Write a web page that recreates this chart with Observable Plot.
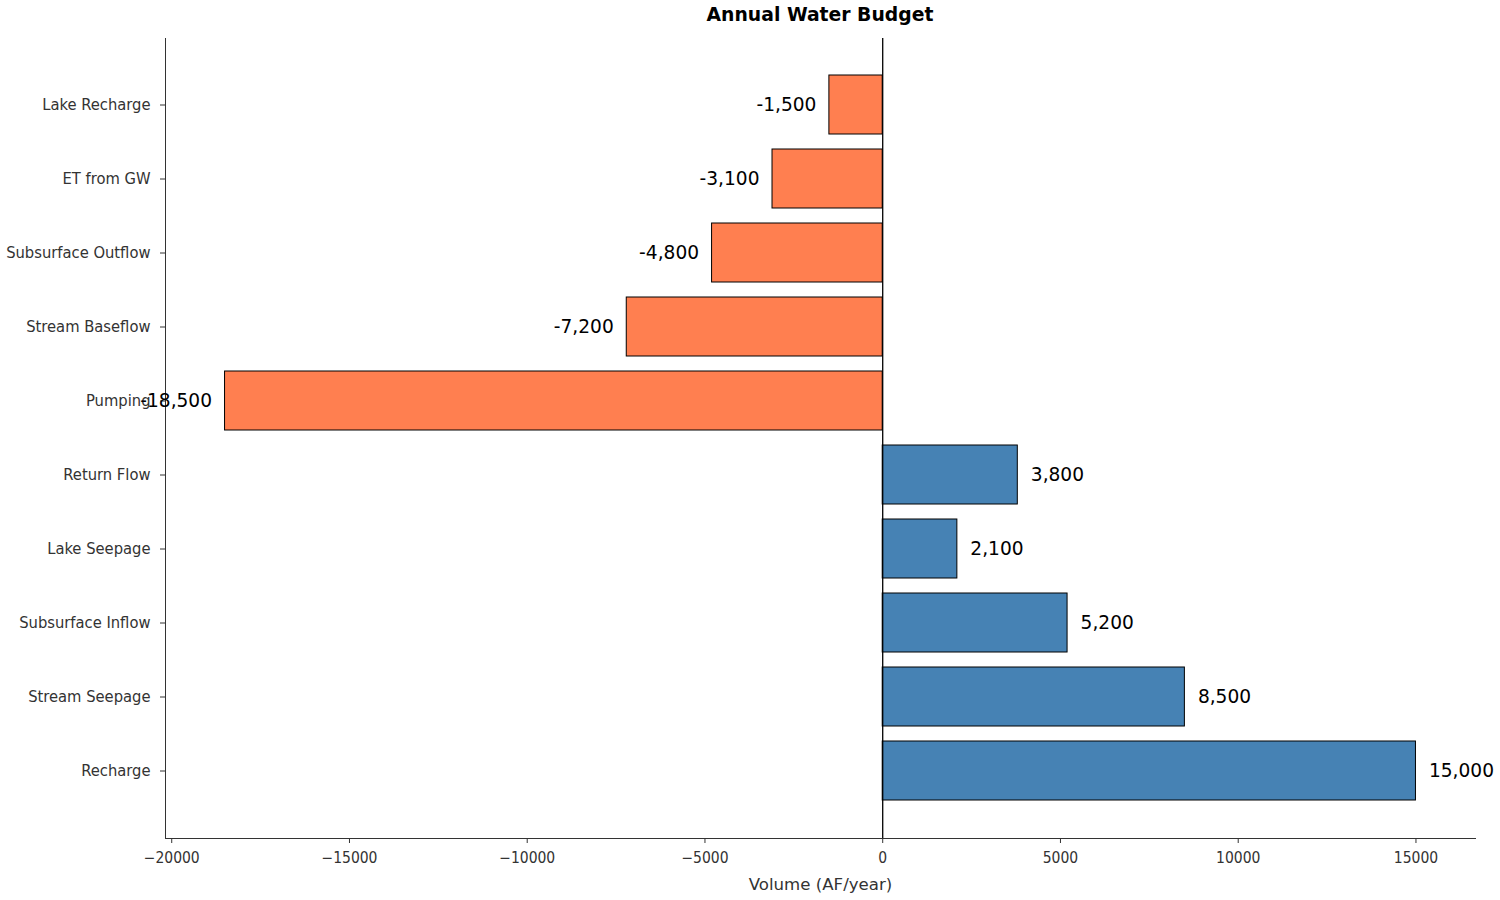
<!DOCTYPE html>
<html>
<head>
<meta charset="utf-8">
<script src="https://cdn.jsdelivr.net/npm/d3@7"></script>
<script src="https://cdn.jsdelivr.net/npm/@observablehq/plot@0.6"></script>
<style>
  body { margin: 0; background: #fff; font-family: "DejaVu Sans", sans-serif; }
  #title { height: 30px; line-height: 30px; padding-left: 165px; padding-right: 25px; width: 1310px;
           text-align: center; font-weight: bold; font-size: 18.8px; color: #000; }
  .cond text { font-stretch: condensed; }
</style>
</head>
<body>
<div id="title">Annual Water Budget</div>
<div id="chart"></div>
<script>
const components = ["Lake Recharge", "ET from GW", "Subsurface Outflow", "Stream Baseflow", "Pumping",
                    "Return Flow", "Lake Seepage", "Subsurface Inflow", "Stream Seepage", "Recharge"];
const volumes = [-1500, -3100, -4800, -7200, -18500, 3800, 2100, 5200, 8500, 15000];
const xTicks = [-20000, -15000, -10000, -5000, 0, 5000, 10000, 15000];
const xLabel = "Volume (AF/year)";
const inColor = "#4682B4";
const outColor = "#FF7F50";

const data = components.map((c, i) => ({name: c, value: volumes[i]}));
const neg = data.filter(d => d.value < 0);
const pos = data.filter(d => d.value >= 0);
const fmtVal = v => (v < 0 ? "-" : "") + d3.format(",")(Math.abs(v));
const fmtTick = d => d < 0 ? "\u2212" + Math.abs(d) : String(d);

const plot = Plot.plot({
  width: 1500,
  height: 870,
  marginLeft: 165,
  marginRight: 25,
  marginTop: 8,
  marginBottom: 62,
  style: {fontFamily: "DejaVu Sans, sans-serif", background: "#fff"},
  x: {domain: [-20175, 16675]},
  y: {domain: components, paddingInner: 0.2, paddingOuter: 0.5},
  marks: [
    Plot.barX(data, {x: "value", y: "name", fill: d => d.value < 0 ? outColor : inColor, stroke: "#000", strokeWidth: 1}),
    Plot.ruleX([0], {stroke: "#000", strokeWidth: 1.3}),
    Plot.frame({anchor: "left", stroke: "#333"}),
    Plot.frame({anchor: "bottom", stroke: "#333"}),
    Plot.axisX({ticks: xTicks, tickFormat: fmtTick, tickSize: 5, tickPadding: 8, fontSize: 15.5, color: "#333", label: null, className: "cond"}),
    Plot.axisY({tickSize: 5, tickPadding: 10, fontSize: 16.4, color: "#333", label: null, className: "cond"}),
    Plot.text(neg, {x: "value", y: "name", text: d => fmtVal(d.value),
      textAnchor: "end", dx: -13, fontSize: 18.6, fill: "#000"}),
    Plot.text(pos, {x: "value", y: "name", text: d => fmtVal(d.value),
      textAnchor: "start", dx: 13, fontSize: 18.6, fill: "#000"}),
    Plot.text([xLabel], {frameAnchor: "bottom", dy: 51, fontSize: 16.6, fill: "#333"})
  ]
});
document.getElementById("chart").appendChild(plot);
</script>
</body>
</html>
